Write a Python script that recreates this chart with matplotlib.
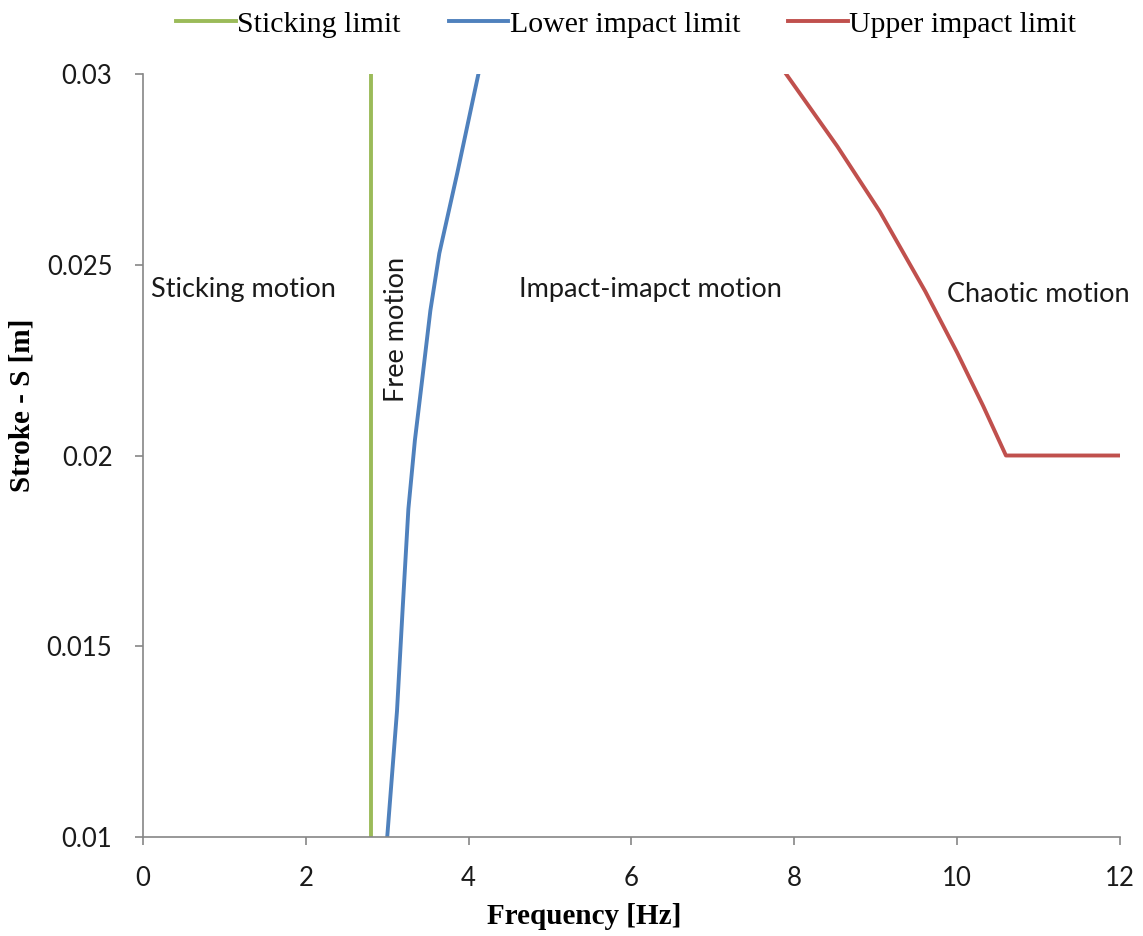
import matplotlib
matplotlib.use("Agg")
import matplotlib.pyplot as plt

# sticking limit (vertical line)
stick_f = [2.8, 2.8]
stick_s = [0.01, 0.03]

# lower impact limit
lower_f = [3.0, 3.12, 3.19, 3.26, 3.34, 3.43, 3.53, 3.64, 3.86, 4.12]
lower_s = [0.01, 0.0133, 0.0160, 0.0186, 0.0204, 0.0220, 0.0238, 0.0253, 0.0274, 0.03]

# upper impact limit
upper_f = [7.9, 8.53, 9.05, 9.61, 10.0, 10.32, 10.6, 12.0]
upper_s = [0.03, 0.0281, 0.0264, 0.0243, 0.0227, 0.0213, 0.02, 0.02]

fig = plt.figure(figsize=(11.43, 9.36), dpi=100)
ax = fig.add_axes([0.1251, 0.1058, 0.8547, 0.8151])

ax.plot(stick_f, stick_s, color='#9BBB59', lw=2.8, label='Sticking limit')
ax.plot(lower_f, lower_s, color='#4F81BD', lw=2.8, label='Lower impact limit')
ax.plot(upper_f, upper_s, color='#C0504D', lw=2.8, label='Upper impact limit')

ax.set_xlim(0, 12)
ax.set_ylim(0.01, 0.03)
ax.set_xticks([0, 2, 4, 6, 8, 10, 12])
ax.set_yticks([0.01, 0.015, 0.02, 0.025, 0.03])
ax.set_yticklabels(['0.01', '0.015', '0.02', '0.025', '0.03'])

for s in ['top', 'right']:
    ax.spines[s].set_visible(False)
for s in ['left', 'bottom']:
    ax.spines[s].set_color('#868686')
    ax.spines[s].set_linewidth(1.2)
ax.tick_params(direction='out', length=6, color='#868686', width=1.2,
               labelsize=18.5)
ax.tick_params(axis='y', pad=16)
ax.tick_params(axis='x', pad=15)
for lab in ax.get_xticklabels() + ax.get_yticklabels():
    lab.set_family('Lato')
    lab.set_color('#1a1a1a')

ax.set_xlabel('Frequency [Hz]', fontsize=21, fontweight='bold',
              family='Liberation Serif')
ax.xaxis.set_label_coords(0.452, -0.086)
ax.set_ylabel('Stroke - S [m]', fontsize=21, fontweight='bold',
              family='Liberation Serif')
ax.yaxis.set_label_coords(-0.1105, 0.566)

ann = dict(fontsize=19.5, family='Lato', color='#1a1a1a')
ax.text(0.1, 0.02434, 'Sticking motion', va='center', ha='left', **ann)
ax.text(6.23, 0.02434, 'Impact-imapct motion', va='center', ha='center', **ann)
ax.text(9.88, 0.02423, 'Chaotic motion', va='center', ha='left', **ann)
ax.text(3.12, 0.0233, 'Free motion', va='center', ha='center',
        rotation=90, **ann)

leg = fig.legend(loc='upper center', bbox_to_anchor=(0.548, 1.017), ncol=3,
                 frameon=False, handlelength=2.0, handletextpad=0.05,
                 columnspacing=1.6,
                 prop={'family': 'Liberation Serif', 'size': 21.5})

fig.savefig('out.png', dpi=100)
